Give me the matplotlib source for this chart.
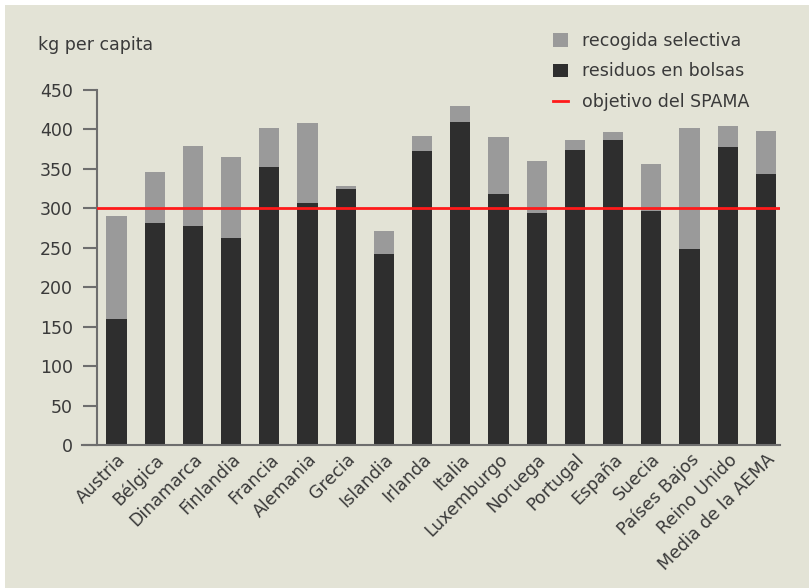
import matplotlib
matplotlib.use("Agg")
import matplotlib.pyplot as plt
from matplotlib.patches import Patch, Rectangle
from matplotlib.lines import Line2D
import numpy as np

plt.rcParams['font.family'] = ['DejaVu Sans']

# datos (kg per cápita)
paises = ["Austria", "Bélgica", "Dinamarca", "Finlandia", "Francia", "Alemania",
          "Grecia", "Islandia", "Irlanda", "Italia", "Luxemburgo", "Noruega",
          "Portugal", "España", "Suecia", "Países Bajos", "Reino Unido",
          "Media de la AEMA"]
residuos_bolsas = [160, 281, 278, 262, 353, 307, 324, 242, 373, 410, 318, 294,
                   374, 387, 297, 249, 378, 344]
recogida_selectiva = [130, 65, 101, 103, 49, 101, 4, 29, 19, 20, 73, 66,
                      13, 10, 59, 153, 26, 54]
objetivo_spama = 300
yticks = [0, 50, 100, 150, 200, 250, 300, 350, 400, 450]

OSCURO = "#2e2e2e"
GRIS = "#9a9a9a"
ROJO = "#ff1a1a"
EJE = "#6e6e6e"
TEXTO = "#3a3a3a"
FONDO = "#e3e3d6"
FS = 12.5

fig = plt.figure(figsize=(8.09, 5.88), dpi=100, facecolor="white")
fig.patches.append(Rectangle((5 / 809, 0), 1, 1 - 5 / 588, transform=fig.transFigure,
                             facecolor=FONDO, edgecolor="none", zorder=-10))

ax = fig.add_axes([96.7 / 809, 1 - 445 / 588, (780 - 96.7) / 809, (445 - 90) / 588])
ax.set_facecolor("none")

x = np.arange(len(paises))
ancho = 0.53
ax.bar(x, residuos_bolsas, width=ancho, color=OSCURO, label="residuos en bolsas", zorder=2)
ax.bar(x, recogida_selectiva, width=ancho, bottom=residuos_bolsas, color=GRIS,
       label="recogida selectiva", zorder=2)
ax.axhline(objetivo_spama, color=ROJO, lw=2, zorder=3, label="objetivo del SPAMA")

ax.set_xlim(-0.52, len(paises) - 1 + 0.37)
ax.set_ylim(0, 450)
ax.set_yticks(yticks)
ax.set_yticklabels([str(v) for v in yticks], fontsize=FS, color=TEXTO)
ax.set_xticks(x)
ax.set_xticklabels(paises, rotation=45, ha="right", va="top", rotation_mode="anchor",
                   fontsize=FS, color=TEXTO)
ax.tick_params(axis="x", length=0, pad=4)
ax.tick_params(axis="y", length=10, width=1.5, color=EJE, pad=7)

for lado in ["top", "right"]:
    ax.spines[lado].set_visible(False)
for lado in ["left", "bottom"]:
    ax.spines[lado].set_color(EJE)
    ax.spines[lado].set_linewidth(1.5)
ax.spines["bottom"].set_bounds(-0.52 - 14 / 36.2, len(paises) - 1 + 0.37)

handles = [Patch(facecolor=GRIS, edgecolor="none"),
           Patch(facecolor=OSCURO, edgecolor="none"),
           Line2D([0], [0], color=ROJO, lw=2)]
labels = ["recogida selectiva", "residuos en bolsas", "objetivo del SPAMA"]
leg = fig.legend(handles, labels, loc="upper left", bbox_to_anchor=(553 / 809, 1 - 32 / 588),
                 frameon=False, fontsize=FS, handlelength=0.85, handleheight=0.85,
                 handletextpad=0.8, labelspacing=0.72, borderpad=0, borderaxespad=0)
for t in leg.get_texts():
    t.set_color(TEXTO)

fig.text(38 / 809, 1 - 45 / 588, "kg per capita", fontsize=FS, color=TEXTO,
         ha="left", va="center")

fig.savefig("out.png", dpi=100, facecolor=fig.get_facecolor())
